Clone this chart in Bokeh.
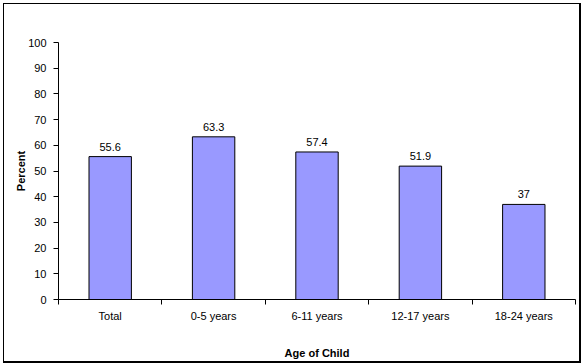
from bokeh.plotting import figure
from bokeh.models import Range1d, FixedTicker, ColumnDataSource
from bokeh.core.properties import value
from bokeh.embed import file_html
from bokeh.resources import INLINE

categories = ["Total", "0-5 years", "6-11 years", "12-17 years", "18-24 years"]
percent = [55.6, 63.3, 57.4, 51.9, 37]
value_labels = ["55.6", "63.3", "57.4", "51.9", "37"]
y_ticks = list(range(0, 101, 10))

FONT = "Liberation Sans"

xs = [i + 0.5 for i in range(len(categories))]
src = ColumnDataSource(dict(x=xs, top=percent, label=value_labels))

p = figure(output_backend="svg", toolbar_location=None,
           x_range=Range1d(0, len(categories)), y_range=Range1d(0, 100),
           frame_width=517, frame_height=257,
           min_border_left=54, min_border_right=4, min_border_top=38, min_border_bottom=61)
p.styles = {"margin-left": "3px", "margin-top": "3px",
            "border-left": "1px solid black", "border-top": "1px solid black",
            "border-right": "2px solid black", "border-bottom": "2px solid black"}
p.background_fill_color = "white"
p.border_fill_color = "white"
p.outline_line_color = None
p.xgrid.visible = False
p.ygrid.visible = False

p.vbar(x="x", top="top", width=0.41, source=src,
       fill_color="#9999FF", line_color="black", line_width=1)
p.text(x="x", y="top", text="label", source=src, text_align="center",
       text_baseline="bottom", y_offset=-6, text_font=value(FONT),
       text_font_size="11px", text_color="black")

xa = p.xaxis[0]
xa.ticker = FixedTicker(ticks=xs, minor_ticks=list(range(len(categories) + 1)))
xa.major_label_overrides = {x: c for x, c in zip(xs, categories)}
xa.major_tick_line_color = None
xa.major_tick_out = 0
xa.major_tick_in = 0
xa.minor_tick_line_color = "black"
xa.minor_tick_out = 5
xa.minor_tick_in = 0
xa.major_label_standoff = 5
xa.axis_label = "Age of Child"
xa.axis_label_standoff = 22

ya = p.yaxis[0]
ya.ticker = FixedTicker(ticks=y_ticks, minor_ticks=[])
ya.major_tick_out = 5
ya.major_tick_in = 0
ya.minor_tick_line_color = None
ya.major_label_standoff = 7
ya.axis_label = "Percent"
ya.axis_label_standoff = -2

for ax in (xa, ya):
    ax.axis_line_color = "black"
    ax.major_label_text_font = FONT
    ax.major_label_text_font_size = "11px"
    ax.major_label_text_color = "black"
    ax.axis_label_text_font = FONT
    ax.axis_label_text_font_size = "11px"
    ax.axis_label_text_font_style = "bold"
    ax.axis_label_text_color = "black"

open("out.html", "w").write(file_html(p, INLINE))
